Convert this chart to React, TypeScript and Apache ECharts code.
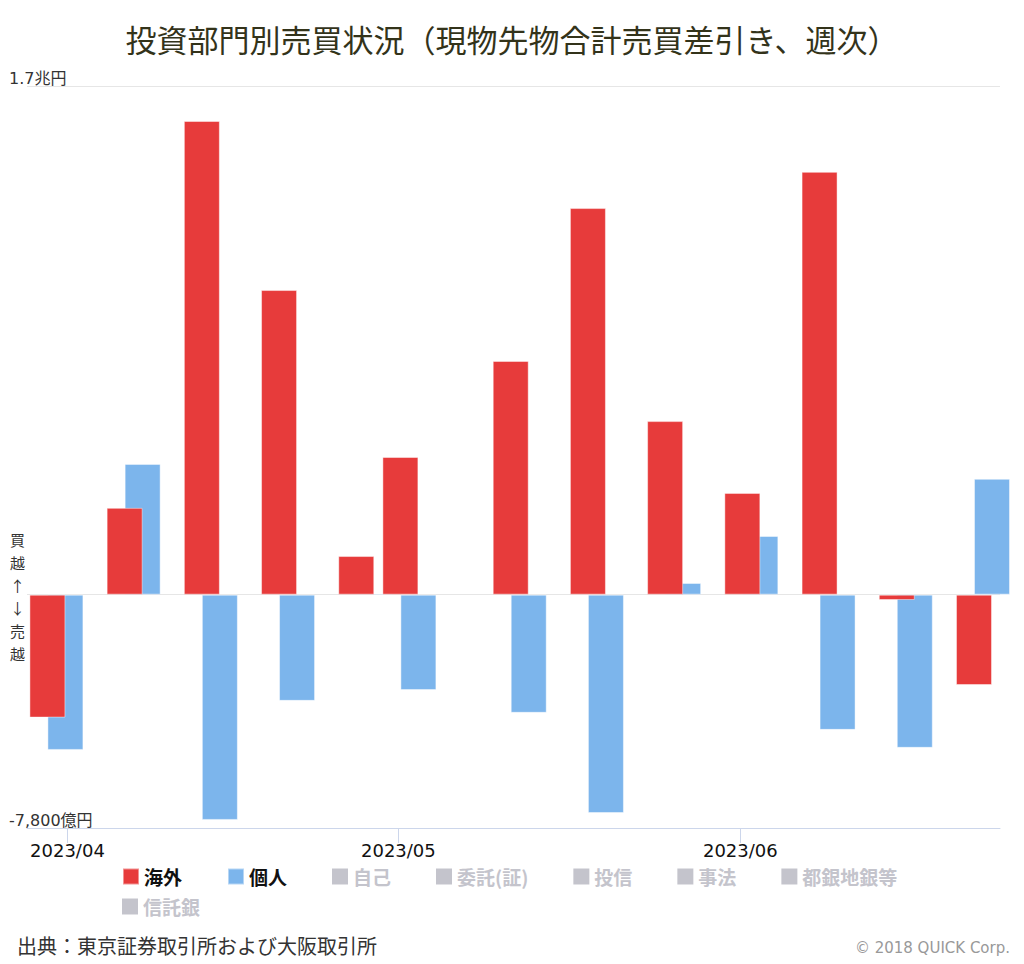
import React, { useEffect, useRef } from "react";
import * as echarts from "echarts";

const weekDates = [
  "2023-03-31", "2023-04-07", "2023-04-14", "2023-04-21", "2023-04-28",
  "2023-05-02", "2023-05-12", "2023-05-19", "2023-05-26", "2023-06-02",
  "2023-06-09", "2023-06-16", "2023-06-23",
];
// 億円
const foreignValues = [-4110, 2900, 15830, 10180, 1290, 4600, 7810, 12920, 5800, 3400, 14130, -180, -3020];
const individualValues = [-5190, 4370, -7530, -3550, 40, -3190, -3950, -7300, 390, 1960, -4520, -5120, 3870];

const monthTicks = ["2023-04-01", "2023-05-01", "2023-06-01"];
const yTickValues = [-7800, 17000];
const yTickLabels = ["-7,800億円", "1.7兆円"];

const legendRow1 = ["海外", "個人", "自己", "委託(証)", "投信", "事法", "都銀地銀等"];
const legendRow2 = ["信託銀"];
const hiddenSeries = ["自己", "委託(証)", "投信", "事法", "都銀地銀等", "信託銀"];

const toTs = (s: string) => {
  const [y, m, d] = s.split("-").map(Number);
  return new Date(y, m - 1, d).getTime();
};

const JP = "'Noto Sans CJK JP', 'Noto Sans', sans-serif";
const LATIN = "'DejaVu Sans', 'Noto Sans CJK JP', sans-serif";

export default function App() {
  const ref = useRef<HTMLDivElement>(null);
  useEffect(() => {
    if (!ref.current) return;
    const chart = echarts.init(ref.current, undefined, { renderer: "svg" });
    const monthTs = monthTicks.map(toTs);
    const legendCommon = {
      orient: "horizontal",
      itemWidth: 16,
      itemHeight: 16,
      itemGap: 45,
      icon: "rect",
      padding: 0,
      inactiveColor: "#c4c4cc",
      textStyle: { color: "#111", fontSize: 19, fontWeight: "bold", fontFamily: JP },
      width: 900,
    };
    const sel1: Record<string, boolean> = {};
    const sel2: Record<string, boolean> = {};
    hiddenSeries.forEach((n) => {
      if (legendRow2.includes(n)) sel2[n] = false;
      else sel1[n] = false;
    });
    chart.setOption({
      animation: false,
      title: {
        text: "投資部門別売買状況（現物先物合計売買差引き、週次）",
        left: "center",
        top: 18,
        textStyle: { fontSize: 31, fontWeight: "normal", color: "#33331a", fontFamily: JP },
      },
      legend: [
        { ...legendCommon, data: legendRow1, left: 122, top: 867, selected: sel1 },
        { ...legendCommon, data: legendRow2, left: 122, top: 897, selected: sel2 },
      ],
      grid: { left: 27, right: 24, top: 86, bottom: 136, containLabel: false },
      xAxis: {
        type: "value",
        min: new Date(2023, 2, 28, 8).getTime(),
        max: new Date(2023, 5, 24, 13).getTime(),
        axisLine: { show: true, onZero: false, lineStyle: { color: "#ccd6eb", width: 1 } },
        axisTick: { show: true, length: 15, lineStyle: { color: "#ccd6eb" }, customValues: monthTs },
        axisLabel: {
          customValues: monthTs,
          formatter: (v: number) => {
            const d = new Date(v);
            return `${d.getFullYear()}/${String(d.getMonth() + 1).padStart(2, "0")}`;
          },
          fontSize: 18,
          color: "#111",
          margin: 13,
          fontFamily: LATIN,
          hideOverlap: false,
        },
        splitLine: { show: false },
      },
      yAxis: {
        type: "value",
        min: -7800,
        max: 17000,
        axisLine: { show: false },
        axisTick: { show: false },
        splitLine: { show: false },
        axisLabel: {
          customValues: yTickValues,
          formatter: (v: number) => {
            const i = yTickValues.indexOf(v);
            return i >= 0 ? yTickLabels[i] : "";
          },
          align: "left",
          verticalAlign: "bottom",
          margin: 18,
          fontSize: 16,
          color: "#333",
          fontFamily: LATIN,
        },
      },
      series: [
        {
          name: "海外",
          type: "bar",
          barWidth: 36,
          barGap: "-50%",
          z: 3,
          itemStyle: { color: "#e73b3b", borderColor: "rgba(255,255,255,0.45)", borderWidth: 1 },
          data: weekDates.map((d, i) => [toTs(d), foreignValues[i]]),
          markLine: {
            silent: true,
            z: 1,
            symbol: ["none", "none"],
            label: { show: false },
            lineStyle: { color: "#e6e6e6", type: "solid", width: 1 },
            data: [{ yAxis: 0 }, { yAxis: 17000 }],
          },
        },
        {
          name: "個人",
          type: "bar",
          barWidth: 36,
          barGap: "-50%",
          z: 2,
          itemStyle: { color: "#7cb5ec", borderColor: "rgba(255,255,255,0.45)", borderWidth: 1 },
          data: weekDates.map((d, i) => [toTs(d), individualValues[i]]),
        },
        ...hiddenSeries.map((n) => ({ name: n, type: "bar", data: [] })),
      ],
      graphic: [
        {
          type: "text",
          left: 10,
          top: 528,
          style: {
            text: "買\n越\n↑\n↓\n売\n越",
            fontSize: 15,
            lineHeight: 22.8,
            fill: "#333",
            fontFamily: JP,
            align: "center",
          },
        },
        {
          type: "text",
          left: 17,
          top: 935,
          style: { text: "出典：東京証券取引所および大阪取引所", fontSize: 20, fill: "#333", fontFamily: JP },
        },
        {
          type: "text",
          right: 14,
          top: 940,
          style: { text: "© 2018 QUICK Corp.", fontSize: 15, fill: "#999", fontFamily: LATIN },
        },
      ],
    });
    return () => chart.dispose();
  }, []);
  return (
    <div
      ref={ref}
      style={{ position: "fixed", left: 0, top: 0, width: 1024, height: 964, background: "#fff" }}
    />
  );
}
